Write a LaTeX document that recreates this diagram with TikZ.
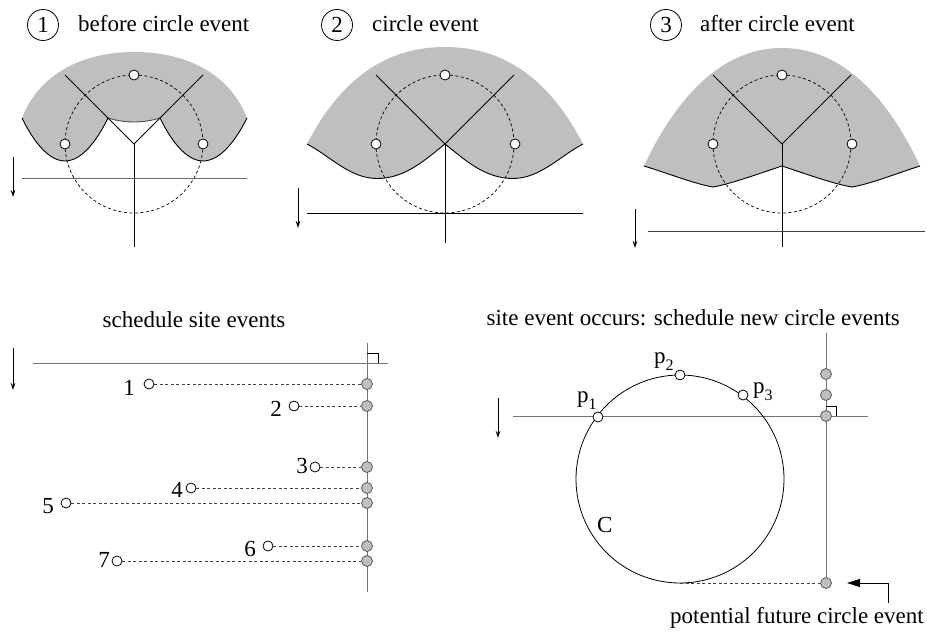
\documentclass[tikz,border=0pt]{standalone}
\usepackage{fontspec}
\setmainfont{Liberation Serif}
\usetikzlibrary{arrows.meta}
\newcommand{\psb}[1]{p\raisebox{-7pt}{\fontsize{16}{16}\selectfont #1}}
\begin{document}
\begin{tikzpicture}[x=1pt,y=-1pt,
  lbl/.style={font=\fontsize{23}{27}\selectfont, inner sep=0pt},
  numcirc/.style={circle,draw,minimum size=31pt,inner sep=0pt,line width=0.8pt,font=\fontsize{23}{27}\selectfont},
  site/.style={circle,draw,fill=white,minimum size=10pt,inner sep=0pt,line width=0.8pt},
  evpt/.style={circle,draw=black!65,fill=black!25,minimum size=11pt,inner sep=0pt,line width=0.8pt},
  region/.style={fill=black!25,draw=none},
  beach/.style={line width=0.9pt},
  voro/.style={line width=0.9pt},
  dcirc/.style={dash pattern=on 3pt off 2.5pt, line width=0.7pt},
  sweepline/.style={line width=1pt},
  dirarrow/.style={-{Stealth[length=7pt,width=4.5pt]},line width=0.8pt},
  conn/.style={dash pattern=on 3pt off 2.5pt, line width=0.7pt, black!75},
  grayline/.style={line width=1pt, black!55}
]
\useasboundingbox (0,0) rectangle (927,634);

% ---------- headers ----------
\node[numcirc] (n1) at (43,25) {1};
\node[lbl,anchor=base west] (t1) at (78,32) {before circle event};
\node[numcirc] (n2) at (337,25) {2};
\node[lbl,anchor=base west] (t2) at (372,32) {circle event};
\node[numcirc] (n3) at (666,25) {3};
\node[lbl,anchor=base west] (t3) at (700,32) {after circle event};

% ---------- panel 1 ----------
\fill[region] (22,118) .. controls (40,72) and (85,52) .. (134.5,52) .. controls (184,52) and (229,72) .. (247,118)
  parabola bend (203,161) (160,118) parabola bend (134,122) (108,118) parabola bend (65,161) (22,118) -- cycle;
\draw[beach] (22,118) parabola bend (65,161) (108,118);
\draw[beach] (160,118) parabola bend (203,161) (247,118);
\draw[beach,black!70] (108,118) parabola bend (134,122) (160,118);
\draw[dcirc] (134,144) circle[radius=69];
\coordinate (v1) at (134,144);
\coordinate (e1a) at (65,75);
\coordinate (e1b) at (203,75);
\coordinate (e1c) at (134,247);
\draw[voro] (e1a) -- (v1) -- (e1b);
\draw[voro] (v1) -- (e1c);
\coordinate (s1a) at (22,178);
\coordinate (s1b) at (247,178);
\draw[sweepline,black!60] (s1a) -- (s1b);
\coordinate (a1a) at (13,157);
\coordinate (a1b) at (13,197);
\draw[dirarrow] (a1a) -- (a1b);
\node[site] (p1t) at (134,75) {};
\node[site] (p1l) at (65,144) {};
\node[site] (p1r) at (203,144) {};

% ---------- panel 2 ----------
\fill[region] (307,144) .. controls (340,80) and (385,47) .. (445,47) .. controls (505,47) and (550,80) .. (583,144)
  .. controls (560,156) and (540,178.5) .. (513,178.5) .. controls (485,178.5) and (465,160) .. (445,144)
  .. controls (425,160) and (405,178.5) .. (377,178.5) .. controls (350,178.5) and (330,156) .. (307,144) -- cycle;
\draw[beach] (307,144) .. controls (330,156) and (350,178.5) .. (377,178.5) .. controls (405,178.5) and (425,160) .. (445,144)
  .. controls (465,160) and (485,178.5) .. (513,178.5) .. controls (540,178.5) and (560,156) .. (583,144);
\draw[dcirc] (445,144) circle[radius=69];
\coordinate (v2) at (445,144);
\coordinate (e2a) at (376,75);
\coordinate (e2b) at (514,75);
\coordinate (e2c) at (445,243);
\draw[voro] (e2a) -- (v2) -- (e2b);
\draw[voro] (v2) -- (e2c);
\coordinate (s2a) at (307,213);
\coordinate (s2b) at (583,213);
\draw[sweepline] (s2a) -- (s2b);
\coordinate (a2a) at (298,188);
\coordinate (a2b) at (298,228);
\draw[dirarrow] (a2a) -- (a2b);
\node[site] (p2t) at (445,75) {};
\node[site] (p2l) at (376,144) {};
\node[site] (p2r) at (515,144) {};

% ---------- panel 3 ----------
\fill[region] (644,166) .. controls (675,100) and (720,48) .. (782,48) .. controls (844,48) and (889,100) .. (920,166)
  .. controls (895,174) and (870,184) .. (852,187) .. controls (834,184) and (809,175) .. (782,166)
  .. controls (755,175) and (730,184) .. (713,187) .. controls (695,184) and (670,174) .. (644,166) -- cycle;
\draw[beach] (644,166) .. controls (670,174) and (695,184) .. (713,187) .. controls (730,184) and (755,175) .. (782,166)
  .. controls (809,175) and (834,184) .. (852,187) .. controls (870,184) and (895,174) .. (920,166);
\draw[dcirc] (782,144) circle[radius=69];
\coordinate (v3) at (782,144);
\coordinate (e3a) at (713,75);
\coordinate (e3b) at (851,75);
\coordinate (e3c) at (782,247);
\draw[voro] (e3a) -- (v3) -- (e3b);
\draw[voro] (v3) -- (e3c);
\coordinate (s3a) at (648,231);
\coordinate (s3b) at (925,231);
\draw[sweepline,black!75] (s3a) -- (s3b);
\coordinate (a3a) at (635,209);
\coordinate (a3b) at (635,248);
\draw[dirarrow] (a3a) -- (a3b);
\node[site] (p3t) at (782,75) {};
\node[site] (p3l) at (713,144) {};
\node[site] (p3r) at (852,144) {};

% ---------- bottom left: schedule site events ----------
\node[lbl,anchor=base] (tl) at (194,327) {schedule site events};
\coordinate (a4a) at (13,348);
\coordinate (a4b) at (13,390);
\draw[dirarrow] (a4a) -- (a4b);
\coordinate (sl1) at (33,363);
\coordinate (sl2) at (388,363);
\draw[grayline] (sl1) -- (sl2);
\coordinate (vl1) at (367,343);
\coordinate (vl2) at (367,592);
\draw[grayline] (vl1) -- (vl2);
\draw[line width=0.8pt] (367,353) -- (378,353) -- (378,363);
\foreach \i/\sx/\sy/\lx/\ly in {1/149/384/135/395, 2/294/406/282/416, 3/315/467/308/473, 4/191/488/183/497, 5/66/503/54/513, 6/268/546/256/556, 7/117/561/110/567}{
  \node[evpt] (q\i) at (367,\sy) {};
  \node[site] (s\i) at (\sx,\sy) {};
  \draw[conn] (s\i) -- (q\i);
  \node[lbl,anchor=base east] (l\i) at (\lx,\ly) {\i};
}

% ---------- bottom right: site event occurs ----------
\node[lbl,anchor=base east] (tr) at (900,325) {site event occurs: schedule new circle events};
\coordinate (a5a) at (498,398);
\coordinate (a5b) at (498,438);
\draw[dirarrow] (a5a) -- (a5b);
\coordinate (sr1) at (513,416);
\coordinate (sr2) at (868,416);
\draw[grayline] (sr1) -- (sr2);
\coordinate (vr1) at (826,333);
\node[evpt] (r4) at (826,583) {};
\draw[grayline] (vr1) -- (r4);
\draw[line width=0.8pt] (826,406) -- (836,406) -- (836,416);
\node[evpt] (r1) at (826,374) {};
\node[evpt] (r2) at (826,395) {};
\node[evpt] (r3) at (826,416) {};
\draw[line width=0.8pt] (680,479) circle[radius=104];
\coordinate (cb) at (680,583);
\draw[conn] (cb) -- (r4);
\node[site] (sp1) at (598,417) {};
\node[site] (sp2) at (680,375) {};
\node[site] (sp3) at (743,395) {};
\node[lbl,anchor=base west] (lp1) at (577,402) {\psb{1}};
\node[lbl,anchor=base west] (lp2) at (654,363) {\psb{2}};
\node[lbl,anchor=base west] (lp3) at (753,393) {\psb{3}};
\node[lbl,anchor=base west] (lc) at (597,532) {C};
\coordinate (ptr0) at (888,603);
\coordinate (ptr1) at (888,583);
\coordinate (ptrtip) at (847,583);
\draw[line width=0.8pt,-{Triangle[length=13pt,width=8pt]}] (ptr0) -- (ptr1) -- (ptrtip);
\node[lbl,anchor=base west] (tp) at (670,623) {potential future circle event};
\end{tikzpicture}
\end{document}
